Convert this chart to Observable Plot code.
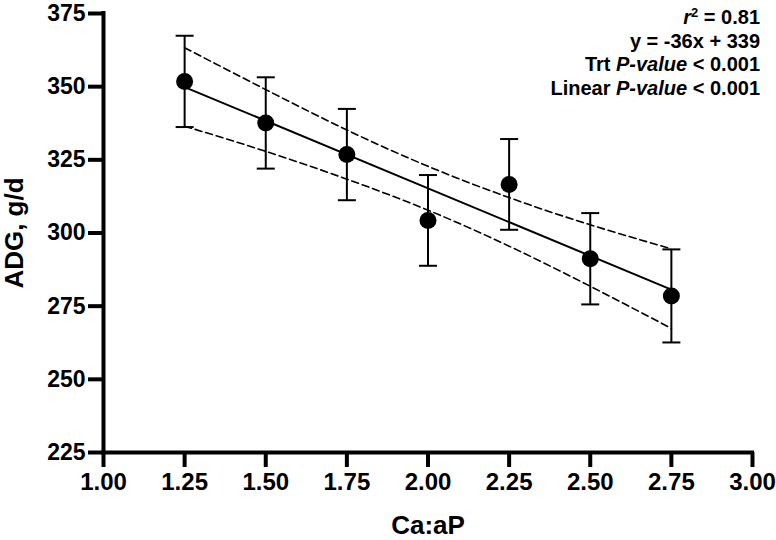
<!DOCTYPE html>
<html>
<head>
<meta charset="utf-8">
<script src="https://cdn.jsdelivr.net/npm/d3@7"></script>
<script src="https://cdn.jsdelivr.net/npm/@observablehq/plot@0.6"></script>
<style>
  html, body { margin: 0; padding: 0; background: #ffffff; }
  #wrap { position: relative; width: 776px; height: 540px; }
  #stats {
    position: absolute; right: 16px; top: 6px; text-align: right;
    font: bold 20px "Liberation Sans", Arial, sans-serif; line-height: 23.5px; color: #000;
  }
  #stats sup { font-size: 0.65em; vertical-align: 0.55em; line-height: 0; }
</style>
</head>
<body>
<div id="wrap">
  <div id="stats">
    <div><i>r</i><sup>2</sup> = 0.81</div>
    <div>y = -36x + 339</div>
    <div>Trt <i>P-value</i> &lt; 0.001</div>
    <div>Linear <i>P-value</i> &lt; 0.001</div>
  </div>
</div>
<script>
// ---- data ----
const caP      = [1.25, 1.50, 1.75, 2.00, 2.25, 2.50, 2.75];
const adg      = [351.8, 337.6, 326.8, 304.3, 316.6, 291.2, 278.5];
const sem      = [15.6, 15.6, 15.6, 15.5, 15.5, 15.6, 15.9];
const ciUpper  = [363.3, 349.0, 335.2, 322.8, 312.1, 302.8, 294.6];
const ciLower  = [336.5, 327.9, 318.4, 307.8, 295.5, 281.8, 267.4];
const xTicks   = [1.00, 1.25, 1.50, 1.75, 2.00, 2.25, 2.50, 2.75, 3.00];
const yTicks   = [225, 250, 275, 300, 325, 350, 375];
const xDomain  = [1, 3];
const yDomain  = [225, 375];
const xTitle   = "Ca:aP";
const yTitle   = "ADG, g/d";

const rows = caP.map((x, i) => ({x, adg: adg[i], sem: sem[i], hi: ciUpper[i], lo: ciLower[i]}));

// horizontal bar symbol used for error-bar caps
const capSymbol = {
  draw(ctx, size) {
    const w = Math.sqrt(size / Math.PI);
    ctx.moveTo(-w, 0);
    ctx.lineTo(w, 0);
  }
};

const font = "'Liberation Sans', Arial, Helvetica, sans-serif";

const chart = Plot.plot({
  width: 776,
  height: 540,
  marginLeft: 103,
  marginRight: 24,
  marginTop: 13,
  marginBottom: 88,
  style: {fontFamily: font, fontSize: "23px", fontWeight: "bold", background: "#ffffff", color: "#000"},
  x: {domain: xDomain},
  y: {domain: yDomain},
  marks: [
    // confidence band (dashed)
    Plot.line(rows, {x: "x", y: "hi", curve: "natural", stroke: "#000", strokeWidth: 1.6, strokeDasharray: "7,4"}),
    Plot.line(rows, {x: "x", y: "lo", curve: "natural", stroke: "#000", strokeWidth: 1.6, strokeDasharray: "7,4"}),
    // regression line
    Plot.linearRegressionY(rows, {x: "x", y: "adg", ci: 0, stroke: "#000", strokeWidth: 2}),
    // error bars
    Plot.ruleX(rows, {x: "x", y1: d => d.adg - d.sem, y2: d => d.adg + d.sem, stroke: "#000", strokeWidth: 2}),
    Plot.dot(rows, {x: "x", y: d => d.adg + d.sem, symbol: capSymbol, r: 9, stroke: "#000", strokeWidth: 2, fill: "none"}),
    Plot.dot(rows, {x: "x", y: d => d.adg - d.sem, symbol: capSymbol, r: 9, stroke: "#000", strokeWidth: 2, fill: "none"}),
    // means
    Plot.dot(rows, {x: "x", y: "adg", r: 8.5, fill: "#000", stroke: "none"}),
    // axes
    Plot.ruleY([yDomain[0]], {stroke: "#000", strokeWidth: 4, strokeLinecap: "square"}),
    Plot.ruleX([xDomain[0]], {stroke: "#000", strokeWidth: 4, strokeLinecap: "square"}),
    Plot.axisY({ticks: yTicks, tickSize: 15, tickPadding: 3, strokeWidth: 4, tickFormat: d => String(d),
                label: null, fontSize: 23, fontWeight: "bold"}),
    Plot.axisX({ticks: xTicks, tickSize: 15, tickPadding: 5, strokeWidth: 4, tickFormat: d3.format(".2f"),
                label: null, fontSize: 24, fontWeight: "bold"}),
    // axis titles
    Plot.text([xTitle], {frameAnchor: "bottom", dy: 73, lineAnchor: "middle", textAnchor: "middle", fontSize: 26, fontWeight: "bold"}),
    Plot.text([yTitle], {frameAnchor: "left", dx: -89, rotate: -90, lineAnchor: "middle", textAnchor: "middle", fontSize: 26, fontWeight: "bold"})
  ]
});

document.getElementById("wrap").prepend(chart);
</script>
</body>
</html>
